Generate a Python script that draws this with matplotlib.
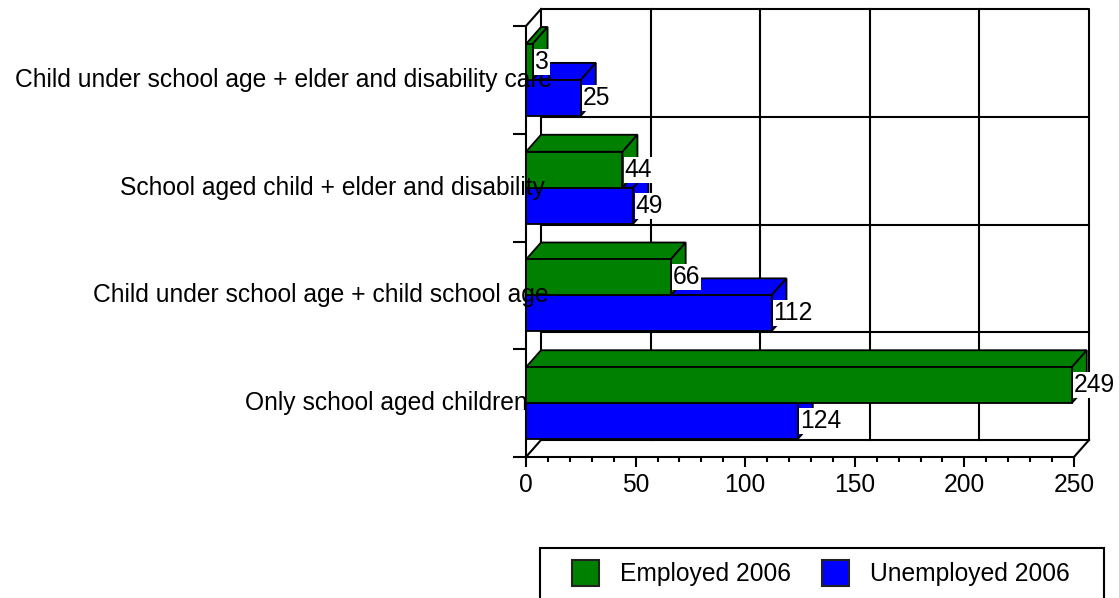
import matplotlib
matplotlib.use('Agg')
import matplotlib.pyplot as plt
from matplotlib.patches import Polygon, Rectangle, Patch

plt.rcParams['font.family'] = ['Liberation Sans', 'DejaVu Sans']

# categories listed bottom to top
categories = ['Only school aged children',
              'Child under school age + child school age',
              'School aged child + elder and disability',
              'Child under school age + elder and disability care']
employed = [249, 66, 44, 3]
unemployed = [124, 112, 49, 25]
series_names = ['Employed 2006', 'Unemployed 2006']
x_ticks = [0, 50, 100, 150, 200, 250]

GREEN = '#008000'
BLUE = '#0000ff'
FS = 17.7

W, H = 1119, 598
fig = plt.figure(figsize=(W / 100, H / 100), dpi=100)
ax = fig.add_axes([526 / W, (H - 457) / H, 548 / W, 431 / H])
ax.set_xlim(0, 250)
ax.set_ylim(0, 4)

# depth of the fake 3d box, in data units
DX = 15 / 548 * 250
DY = 17 / 431 * 4
GAP = 0.167
LW = 1.5

for s in ['top', 'right']:
    ax.spines[s].set_visible(False)
for s in ['left', 'bottom']:
    ax.spines[s].set_linewidth(LW)
ax.set_xticks(x_ticks)
ax.set_xticks(range(0, 251, 10), minor=True)
ax.set_yticks(range(5))
ax.set_yticklabels([])
ax.set_yticks([], minor=True)
ax.tick_params(axis='x', which='major', length=7.5, width=LW, labelsize=FS, pad=4)
ax.tick_params(axis='x', which='minor', length=3.8, width=LW)
ax.tick_params(axis='y', which='major', length=9.5, width=LW)

# back wall and grid
kw = dict(color='black', lw=LW, clip_on=False, zorder=1)
ax.plot([DX, DX, 250 + DX, 250 + DX], [DY, 4 + DY, 4 + DY, DY], **kw)
ax.plot([DX, 250 + DX], [DY, DY], **kw)
for xv in x_ticks[1:-1]:
    ax.plot([xv + DX, xv + DX], [DY, 4 + DY], **kw)
for yv in range(1, 4):
    ax.plot([DX, 250 + DX], [yv + DY, yv + DY], **kw)
ax.plot([0, DX], [0, DY], **kw)
ax.plot([0, DX], [4, 4 + DY], **kw)
ax.plot([250, 250 + DX], [0, DY], **kw)


def bar3d(v, y0, y1, color, z):
    faces = [
        [(0, y1), (v, y1), (v + DX, y1 + DY), (DX, y1 + DY)],
        [(v, y0), (v + DX, y0 + DY), (v + DX, y1 + DY), (v, y1)],
        [(0, y0), (v, y0), (v, y1), (0, y1)],
    ]
    for f in faces:
        ax.add_patch(Polygon(f, closed=True, fc=color, ec='black', lw=1.3,
                             joinstyle='miter', clip_on=False, zorder=z))


def value_label(v, yc):
    ax.annotate(str(v), (v, yc), xytext=(1.5, 0), textcoords='offset points',
                ha='left', va='center', fontsize=FS, zorder=20,
                bbox=dict(boxstyle='square,pad=0.04', fc='white', ec='none'))


z = 3
for i in range(len(categories)):
    bar3d(unemployed[i], i + GAP, i + 0.5, BLUE, z)
    bar3d(employed[i], i + 0.5, i + 1 - GAP, GREEN, z + 1)
    z += 2
    value_label(unemployed[i], i + (GAP + 0.5) / 2)
    value_label(employed[i], i + (1.5 - GAP) / 2)

# category names, right ends in points from the left axis
label_ends = [1.5, 16, 14, 19]
for i, name in enumerate(categories):
    ax.annotate(name, (0, i + 0.5), xytext=(label_ends[i], 0),
                textcoords='offset points', ha='right', va='center',
                fontsize=FS, zorder=15, annotation_clip=False)

# legend with open bottom frame
fig.patches.append(Rectangle((540 / W, -0.05), (1104 - 540) / W, 0.05 + (H - 548) / H,
                             transform=fig.transFigure, fill=False, ec='black', lw=LW))
handles = [Patch(fc=GREEN, ec='#222222', lw=1.5, label=series_names[0]),
           Patch(fc=BLUE, ec='#222222', lw=1.5, label=series_names[1])]
fig.legend(handles=handles, loc='center left', bbox_to_anchor=(572 / W, 1 - 573 / H),
           ncol=2, frameon=False, fontsize=FS, borderpad=0, borderaxespad=0,
           handlelength=1.1, handleheight=1.3, handletextpad=0.85, columnspacing=1.25)

fig.savefig('out.png', dpi=100)
